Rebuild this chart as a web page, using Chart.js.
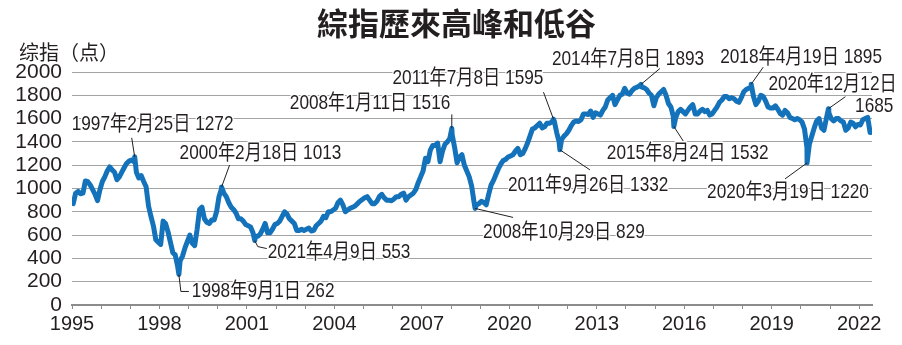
<!DOCTYPE html>
<html lang="zh-Hant">
<head>
<meta charset="utf-8">
<title>綜指歷來高峰和低谷</title>
<script src="https://cdn.jsdelivr.net/npm/chart.js@4.4.1/dist/chart.umd.min.js"></script>
<style>
  html, body { margin: 0; padding: 0; background: #fff; }
  .wrap { position: relative; width: 902px; height: 345px; overflow: hidden; }
  .wrap canvas { position: absolute; left: 0; top: 0; }
  .title {
    position: absolute; left: 0; top: 3px; width: 902px; box-sizing: border-box; padding-left: 11px;
    text-align: center; font: 700 31px/38px "Noto Sans CJK TC", sans-serif; color: #231f20;
  }
  .unit {
    position: absolute; left: 19px; top: 38px;
    font: 20px/28px "Noto Sans CJK SC", sans-serif; color: #231f20;
  }
</style>
</head>
<body>
<div class="wrap">
  <canvas id="klciChart" width="902" height="345"></canvas>
  <div class="title">綜指歷來高峰和低谷</div>
  <div class="unit">综指（点）</div>
</div>
<script>
'use strict';

// KLCI, roughly mid-month level, Jan 1995 .. May 2022
const monthlyClose = [
  870, 960, 975, 955, 960, 1065, 1058, 1030, 990, 950, 895, 990,            // 1995
  1060, 1100, 1150, 1185, 1160, 1140, 1075, 1100, 1140, 1180, 1216, 1235,   // 1996
  1245, 1230, 1140, 1090, 1110, 1060, 1015, 850, 760, 680, 560, 540,        // 1997
  520, 720, 700, 630, 540, 450, 430, 330, 380, 420, 490, 545,               // 1998
  600, 530, 510, 650, 820, 840, 740, 710, 700, 730, 730, 800,               // 1999
  930, 995, 960, 930, 880, 840, 820, 790, 740, 740, 720, 690,               // 2000
  680, 670, 620, 590, 590, 610, 650, 700, 620, 620, 650, 690,               // 2001
  700, 720, 760, 800, 780, 740, 720, 700, 640, 640, 650, 640,               // 2002
  650, 660, 635, 640, 680, 700, 720, 760, 750, 800, 800, 815,               // 2003
  830, 880, 900, 860, 800, 815, 830, 840, 850, 870, 890, 905,               // 2004
  920, 930, 900, 870, 870, 890, 930, 950, 920, 900, 900, 895,               // 2005
  910, 930, 930, 950, 960, 900, 930, 945, 960, 990, 1050, 1100,             // 2006
  1150, 1260, 1230, 1330, 1370, 1370, 1390, 1230, 1320, 1380, 1400, 1430,   // 2007
  1460, 1350, 1220, 1270, 1290, 1200, 1150, 1100, 1020, 880, 860, 870,      // 2008
  890, 880, 860, 950, 1030, 1070, 1120, 1170, 1210, 1240, 1250, 1270,       // 2009
  1280, 1290, 1320, 1345, 1290, 1300, 1340, 1390, 1450, 1510, 1520, 1540,   // 2010
  1560, 1520, 1530, 1560, 1560, 1570, 1580, 1480, 1400, 1420, 1450, 1470,   // 2011
  1500, 1540, 1570, 1580, 1575, 1590, 1640, 1640, 1635, 1665, 1610, 1650,   // 2012
  1640, 1630, 1670, 1700, 1760, 1780, 1800, 1720, 1760, 1800, 1810, 1860,   // 2013
  1820, 1810, 1840, 1860, 1870, 1880, 1870, 1865, 1850, 1820, 1800, 1710,   // 2014
  1780, 1810, 1830, 1850, 1800, 1730, 1700, 1620, 1610, 1660, 1680, 1660,   // 2015
  1640, 1670, 1700, 1720, 1640, 1640, 1665, 1680, 1660, 1670, 1630, 1640,   // 2016
  1670, 1700, 1740, 1760, 1790, 1790, 1770, 1780, 1770, 1750, 1740, 1780,   // 2017
  1830, 1850, 1860, 1870, 1790, 1720, 1750, 1800, 1790, 1750, 1700, 1690,   // 2018
  1690, 1710, 1680, 1645, 1630, 1670, 1650, 1610, 1600, 1590, 1600, 1590,   // 2019
  1570, 1510, 1350, 1380, 1450, 1520, 1580, 1600, 1520, 1500, 1600, 1650,   // 2020
  1600, 1580, 1600, 1600, 1580, 1570, 1500, 1520, 1570, 1560, 1530, 1550,   // 2021
  1545, 1590, 1600, 1610, 1480                                              // 2022
];

// record highs and lows
const peakDates  = ['1997-02-25', '1998-09-01', '2000-02-18', '2001-04-09', '2008-01-11', '2008-10-29',
                    '2011-07-08', '2011-09-26', '2014-07-08', '2015-08-24', '2018-04-19', '2020-03-19', '2020-12-12'];
const peakValues = [1272, 262, 1013, 553, 1516, 829, 1595, 1332, 1893, 1532, 1895, 1220, 1685];
const peakLabels = [
  ['1997年2月25日 1272'], ['1998年9月1日 262'], ['2000年2月18日 1013'], ['2021年4月9日 553'],
  ['2008年1月11日 1516'], ['2008年10月29日 829'], ['2011年7月8日 1595'], ['2011年9月26日 1332'],
  ['2014年7月8日 1893'], ['2015年8月24日 1532'], ['2018年4月19日 1895'], ['2020年3月19日 1220'],
  ['2020年12月12日', '1685']
];

const yearLabels = ['1995', '1998', '2001', '2004', '2007', '2020', '2013', '2016', '2019', '2022'];

// callout geometry, px offsets from the marked point
const callouts = [
  { leader: [[-3, -19]],           text: [[-63, -33, 'left']] },
  { leader: [[2, 17], [10, 17]],   text: [[13, 17, 'left']] },
  { leader: [[8, -22]],            text: [[-42, -34, 'left']] },
  { leader: [[3, 6], [12, 8]],     text: [[13, 12, 'left']] },
  { leader: [[0, -14]],            text: [[-162, -25, 'left']] },
  { leader: [[38, 9]],             text: [[8, 24, 'left']] },
  { leader: [[-10, -27]],          text: [[-161, -41, 'left']] },
  { leader: [[30, 20]],            text: [[-52, 35, 'left']] },
  { leader: [[19, -16]],           text: [[-89, -25, 'left']] },
  { leader: [[11, 17]],            text: [[-67, 27, 'left']] },
  { leader: [[12, -17]],           text: [[-31, -27, 'left']] },
  { leader: [[-22, 16]],           text: [[-100, 29, 'left']] },
  { leader: [[17, -12]],           text: [[-60, -24, 'left'], [65, -2, 'right']] }
];

const INK = '#231f20';
const LINE_BLUE = '#1372b9';

function toYear(d) {
  const [y, m, day] = d.split('-').map(Number);
  const start = Date.UTC(y, 0, 1), end = Date.UTC(y + 1, 0, 1);
  return y + (Date.UTC(y, m - 1, day) - start) / (end - start);
}

const series = monthlyClose
  .map((v, i) => ({ x: 1995 + (i + 0.5) / 12, y: v }))
  .concat(peakDates.map((d, i) => ({ x: toYear(d), y: peakValues[i] })))
  .sort((a, b) => a.x - b.x);

function drawLabel(ctx, str, x, y, align) {
  ctx.save();
  ctx.translate(x, y);
  ctx.scale(0.82, 1);
  ctx.font = '21px "Liberation Sans", "Noto Sans CJK SC", sans-serif';
  ctx.textAlign = align;
  ctx.textBaseline = 'middle';
  ctx.lineJoin = 'round';
  ctx.strokeStyle = '#fff';
  ctx.lineWidth = 3;
  ctx.strokeText(str, 0, 0);
  ctx.fillStyle = INK;
  ctx.fillText(str, 0, 0);
  ctx.restore();
}

const peakCallouts = {
  id: 'peakCallouts',
  afterDatasetsDraw(chart) {
    const { ctx, scales: { x, y } } = chart;
    peakDates.forEach((d, i) => {
      const px = x.getPixelForValue(toYear(d));
      const py = y.getPixelForValue(peakValues[i]);
      const c = callouts[i];
      ctx.save();
      ctx.strokeStyle = INK;
      ctx.lineWidth = 1;
      ctx.beginPath();
      ctx.moveTo(px, py);
      c.leader.forEach(([dx, dy]) => ctx.lineTo(px + dx, py + dy));
      ctx.stroke();
      ctx.restore();
      peakLabels[i].forEach((str, k) => {
        const [dx, dy, align] = c.text[k];
        drawLabel(ctx, str, px + dx, py + dy, align);
      });
    });
  }
};

const tickFont = { family: '"Liberation Sans", Arial, sans-serif' };

new Chart(document.getElementById('klciChart'), {
  type: 'line',
  data: {
    datasets: [{
      data: series,
      borderColor: LINE_BLUE,
      borderWidth: 5,
      borderJoinStyle: 'round',
      borderCapStyle: 'round',
      pointRadius: 0,
      tension: 0,
      fill: false,
    }],
  },
  options: {
    responsive: false,
    animation: false,
    layout: { padding: { top: 72, right: 30, bottom: 0, left: 0 } },
    plugins: { legend: { display: false }, tooltip: { enabled: false }, title: { display: false } },
    scales: {
      x: {
        type: 'linear',
        min: 1995,
        max: 2022.44,
        afterBuildTicks: scale => {
          const ticks = [];
          for (let yr = 1995; yr <= 2022; yr++) ticks.push({ value: yr });
          scale.ticks = ticks;
        },
        afterFit: scale => { scale.height = 40; },
        grid: { drawOnChartArea: false, drawTicks: true, tickLength: 4, color: '#8c8c8c' },
        border: { display: true, color: '#8c8c8c', width: 2 },
        ticks: {
          autoSkip: false, maxRotation: 0, padding: 3, color: INK,
          font: { ...tickFont, size: 20 },
          callback: v => ((v - 1995) % 3 === 0 ? yearLabels[(v - 1995) / 3] : ''),
        },
      },
      y: {
        min: 0,
        max: 2000,
        afterFit: scale => { scale.width = 72; },
        grid: { color: '#a3a3a3', lineWidth: 1, drawTicks: false },
        border: { display: false },
        ticks: {
          stepSize: 200, autoSkip: false, padding: 10, color: INK,
          font: { ...tickFont, size: 21, lineHeight: 1 },
          callback: v => String(v),
        },
      },
    },
  },
  plugins: [peakCallouts],
});
</script>
</body>
</html>
